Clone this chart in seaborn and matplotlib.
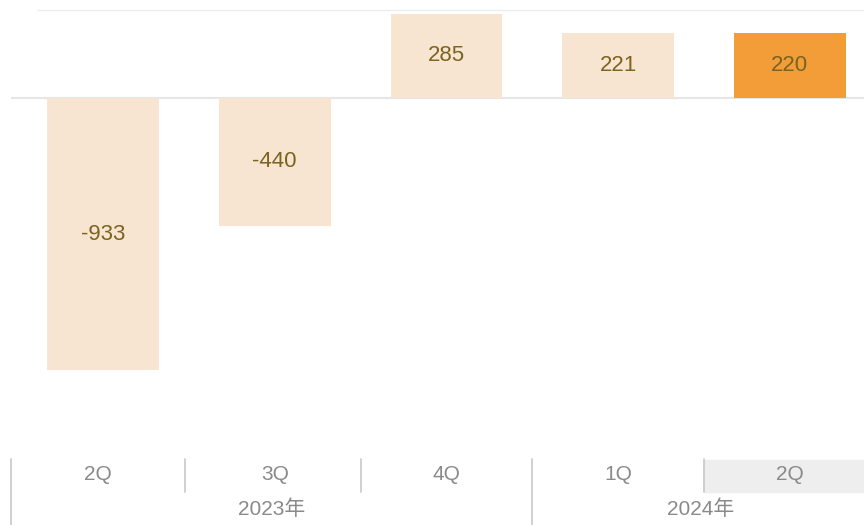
import numpy as np
import pandas as pd
import matplotlib
matplotlib.use('Agg')
import matplotlib.pyplot as plt
import seaborn as sns

sns.set_style('white')
plt.rcParams['font.family'] = ['Liberation Sans', 'Noto Sans CJK JP', 'DejaVu Sans']

QUARTERS = ['2Q', '3Q', '4Q', '1Q', '2Q']
YEARS = ['2023年', '2024年']
YEAR_SPANS = [(0, 2), (3, 4)]   # first/last quarter index for each year
VALUES = [-933, -440, 285, 221, 220]
HIGHLIGHT = [False, False, False, False, True]

LIGHT = '#F8E5D1'
ORANGE = '#F29D38'
LABEL_COLOUR = '#7B6320'
GREY_TEXT = '#8a8a8a'
SEP_COLOUR = '#c8c8c8'

W, H = 864, 525
fig = plt.figure(figsize=(W / 100, H / 100), dpi=100)


def px_box(left, top, right, bottom):
    return [left / W, 1 - bottom / H, (right - left) / W, (bottom - top) / H]


# main bar area
ax = fig.add_axes(px_box(11, 0, 864, 390))
df = pd.DataFrame({'pos': [str(i) for i in range(len(VALUES))],
                   'value': VALUES,
                   'hl': ['hl' if h else 'base' for h in HIGHLIGHT]})
sns.barplot(data=df, x='pos', y='value', hue='hl',
            palette={'base': LIGHT, 'hl': ORANGE}, dodge=False, saturation=1,
            width=0.65, legend=False, ax=ax, linewidth=0)

x_left, x_right = -0.536, 4.432
ax.set_xlim(x_left, x_right)
ax.set_ylim(-1000, 334)
ax.axhline(0, color='#e6e6e6', linewidth=1.5, zorder=0)
ax.axhline(300, xmin=(37 - 11) / (864 - 11), color='#ececec', linewidth=1, zorder=0)
for i, v in enumerate(VALUES):
    ax.text(i, v / 2, f'{v}', ha='center', va='center',
            fontsize=16, color=LABEL_COLOUR)
ax.set_xticks([])
ax.set_yticks([])
ax.set_xlabel('')
ax.set_ylabel('')
sns.despine(ax=ax, left=True, bottom=True)

# category axis below
ax2 = fig.add_axes(px_box(0, 440, 864, 525))
ax2.set_xlim(x_left - 11 / 171.7, x_right)
ax2.set_ylim(85, 0)
ax2.axis('off')

for i, (q, hl) in enumerate(zip(QUARTERS, HIGHLIGHT)):
    if hl:
        ax2.axvspan(i - 0.5, x_right, ymin=1 - 52 / 85, ymax=1 - 20 / 85,
                    color='#eeeeee', zorder=0)
    ax2.text(i - (0.03 if i == 0 else 0), 35, q, ha='center', va='center',
             fontsize=15, color=GREY_TEXT)

year_starts = {s for s, _ in YEAR_SPANS}
for i in range(len(QUARTERS)):
    edge = x_left if i == 0 else i - (0.52 if i == 1 else 0.5)
    bottom = 85 if i in year_starts else 52
    ax2.plot([edge, edge], [19, bottom], color=SEP_COLOUR, linewidth=1.2)

for year, (s, e) in zip(YEARS, YEAR_SPANS):
    ax2.text((s + e) / 2 - 0.02, 69, year, ha='center', va='center',
             fontsize=15, color=GREY_TEXT)

fig.savefig('out.png', dpi=100)
